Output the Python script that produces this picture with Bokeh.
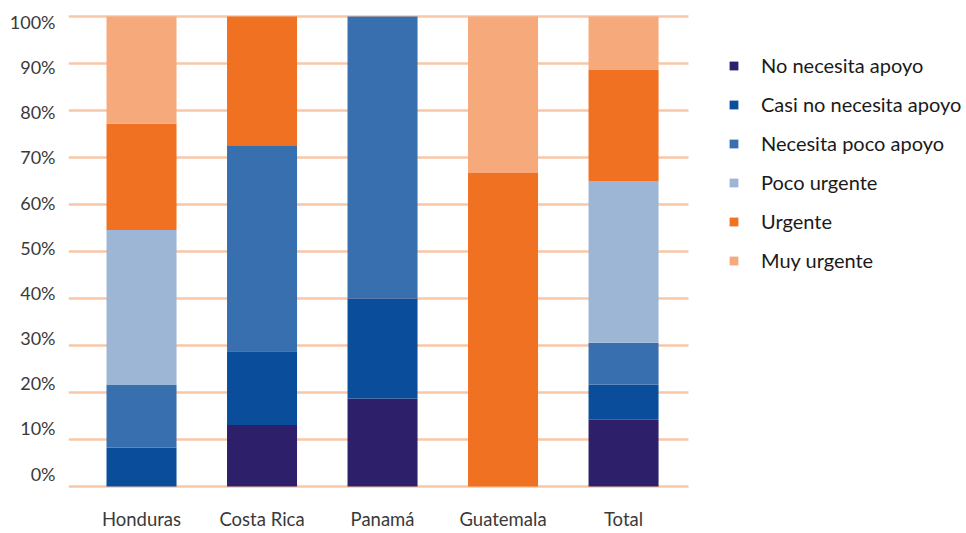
from bokeh.plotting import figure
from bokeh.models import Range1d, LinearAxis, FixedTicker, Legend, LegendItem
from bokeh.embed import file_html
from bokeh.resources import INLINE

countries = ["Honduras", "Costa Rica", "Panamá", "Guatemala", "Total"]
series = ["No necesita apoyo", "Casi no necesita apoyo", "Necesita poco apoyo",
          "Poco urgente", "Urgente", "Muy urgente"]
no_necesita = [0.0, 13.1, 18.7, 0.0, 14.2]
casi_no_necesita = [8.3, 15.7, 21.3, 0.0, 7.5]
necesita_poco = [13.3, 43.8, 60.0, 0.0, 8.9]
poco_urgente = [33.0, 0.0, 0.0, 0.0, 34.3]
urgente = [22.6, 27.4, 0.0, 66.7, 23.7]
muy_urgente = [22.8, 0.0, 0.0, 33.3, 11.4]
y_ticks = [0, 10, 20, 30, 40, 50, 60, 70, 80, 90, 100]
y_tick_labels = {t: f"{t}%" for t in y_ticks}
colors = ["#2D1F69", "#0A4D9A", "#386FAE", "#9DB6D6", "#F07122", "#F6A97B"]

FONT = "Lato"
xpos = list(range(len(countries)))
data = dict(x=xpos)
keys = ["s0", "s1", "s2", "s3", "s4", "s5"]
for k, vals in zip(keys, [no_necesita, casi_no_necesita, necesita_poco,
                          poco_urgente, urgente, muy_urgente]):
    data[k] = vals

p = figure(width=966, height=533, output_backend="svg", toolbar_location=None,
           x_range=Range1d(-0.606, 6.846), y_range=Range1d(-4.468, 100.426),
           y_axis_location=None, min_border_left=68, min_border_right=0,
           min_border_top=14, min_border_bottom=26)
p.outline_line_color = None
p.background_fill_color = "white"

renderers = p.vbar_stack(keys, x="x", width=0.581, source=data, color=colors,
                         line_color=None)

# grid
p.xgrid.visible = False
p.ygrid.ticker = FixedTicker(ticks=y_ticks)
p.ygrid.grid_line_color = "#F9C6A6"
p.ygrid.grid_line_width = 2.5
p.ygrid.cross_bounds = (-0.606, 4.539)

# x axis
p.xaxis.ticker = FixedTicker(ticks=xpos)
p.xaxis.major_label_overrides = {i: c for i, c in enumerate(countries)}
p.xaxis.axis_line_color = None
p.xaxis.major_tick_line_color = None
p.xaxis.minor_tick_line_color = None
p.xaxis.major_tick_out = 0
p.xaxis.major_tick_in = 0
p.xaxis.major_label_standoff = 0
p.xaxis.major_label_text_font = FONT
p.xaxis.major_label_text_font_size = "18.5px"
p.xaxis.major_label_text_color = "#3a3a3a"

# y axis (labels on their own scale, as in the reference)
p.extra_y_ranges = {"lab": Range1d(-7.530, 101.661)}
yax = LinearAxis(y_range_name="lab", ticker=FixedTicker(ticks=y_ticks))
yax.major_label_overrides = y_tick_labels
yax.axis_line_color = None
yax.major_tick_line_color = None
yax.minor_tick_line_color = None
yax.major_tick_out = 0
yax.major_tick_in = 0
yax.major_label_standoff = 13
yax.major_label_text_font = FONT
yax.major_label_text_font_size = "18px"
yax.major_label_text_color = "#3a3a3a"
p.add_layout(yax, "left")

legend = Legend(items=[LegendItem(label=s, renderers=[r]) for s, r in zip(series, renderers)],
                location=(660, 235), glyph_width=11, glyph_height=11, label_standoff=22,
                spacing=15, label_text_font=FONT, label_text_font_size="20px",
                label_text_color="#1a1a1a", border_line_color=None, padding=0, margin=0,
                background_fill_alpha=0)
p.add_layout(legend, "center")

open("out.html", "w").write(file_html(p, INLINE))
